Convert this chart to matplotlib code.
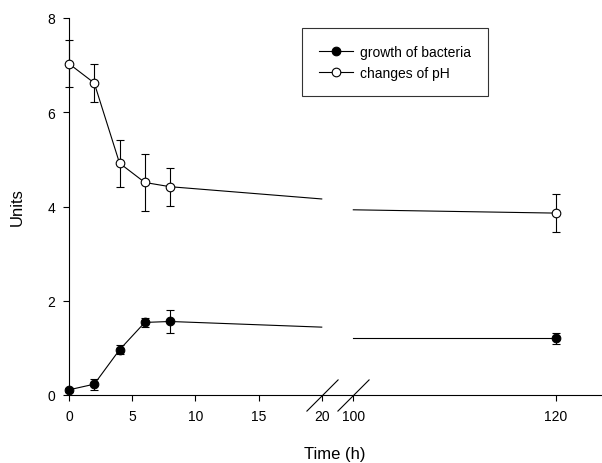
import numpy as np
import matplotlib
matplotlib.use("Agg")
import matplotlib.pyplot as plt
from matplotlib.lines import Line2D

plt.rcParams['font.family'] = ['Liberation Sans', 'DejaVu Sans']

# data
time = [0, 2, 4, 6, 8]
bacteria = [0.11, 0.23, 0.96, 1.54, 1.56]
bacteria_err = [0.04, 0.12, 0.10, 0.09, 0.25]
ph = [7.03, 6.62, 4.92, 4.51, 4.42]
ph_err = [0.50, 0.40, 0.50, 0.60, 0.40]

time_late = [120]
bacteria_late = [1.20]
bacteria_late_err = [0.12]
ph_late = [3.86]
ph_late_err = [0.40]

# where the connecting lines meet the axis break
break_time = [20, 100]
bacteria_break = [1.44, 1.20]
ph_break = [4.16, 3.93]

xticks = [0, 5, 10, 15, 20, 100, 120]

# broken x axis: 0-20 linear, 20-100 squeezed, 100+ at 0.8 scale
GAP = 2.5
R = 0.8


def fwd(x):
    x = np.asarray(x, dtype=float)
    return np.where(x <= 20, x,
                    np.where(x < 100, 20 + (x - 20) * GAP / 80, 20 + GAP + (x - 100) * R))


def inv(u):
    u = np.asarray(u, dtype=float)
    return np.where(u <= 20, u,
                    np.where(u < 20 + GAP, 20 + (u - 20) * 80 / GAP, 100 + (u - 20 - GAP) / R))


fig = plt.figure(figsize=(6.02, 4.64), dpi=100)
ax = fig.add_axes([69 / 602, 68 / 464, 532 / 602, 377 / 464])
ax.set_xscale('function', functions=(fwd, inv))

lw = 0.8
ms = 6.2

# error bars
ax.errorbar(time + time_late, bacteria + bacteria_late, yerr=bacteria_err + bacteria_late_err,
            fmt='none', ecolor='black', elinewidth=lw, capsize=2.6, capthick=lw, clip_on=False, zorder=2)
ax.errorbar(time + time_late, ph + ph_late, yerr=ph_err + ph_late_err,
            fmt='none', ecolor='black', elinewidth=lw, capsize=2.6, capthick=lw, clip_on=False, zorder=2)

# connecting lines (left part, right part)
ax.plot(time + break_time[:1], bacteria + bacteria_break[:1], color='black', lw=lw, zorder=3)
ax.plot(break_time[1:] + time_late, bacteria_break[1:] + bacteria_late, color='black', lw=lw, zorder=3)
ax.plot(time + break_time[:1], ph + ph_break[:1], color='black', lw=lw, zorder=3)
ax.plot(break_time[1:] + time_late, ph_break[1:] + ph_late, color='black', lw=lw, zorder=3)

# markers
ax.plot(time + time_late, bacteria + bacteria_late, 'o', color='black', ms=ms,
        mec='black', mew=lw, clip_on=False, zorder=4)
ax.plot(time + time_late, ph + ph_late, 'o', color='white', ms=ms,
        mec='black', mew=lw, clip_on=False, zorder=4)

# break marks on the x axis
ax.plot(break_time, [0, 0], linestyle='none', marker=[(-1, -1), (1, 1)], ms=23,
        mec='black', mew=lw, clip_on=False, zorder=5)

ax.set_xlim(0, 124.5)
ax.set_ylim(0, 8)
ax.set_xticks(xticks)
ax.set_xticklabels([str(t) for t in xticks])
ax.set_yticks([0, 2, 4, 6, 8])
ax.minorticks_off()

for s in ['top', 'right']:
    ax.spines[s].set_visible(False)
for s in ['left', 'bottom']:
    ax.spines[s].set_linewidth(lw)
ax.tick_params(direction='out', length=4, width=lw, labelsize=10, pad=6)

ax.set_xlabel('Time (h)', fontsize=12, labelpad=17)
ax.set_ylabel('Units', fontsize=12, labelpad=16)

handles = [
    Line2D([], [], color='black', lw=lw, marker='o', ms=ms, mfc='black', mec='black', mew=lw),
    Line2D([], [], color='black', lw=lw, marker='o', ms=ms, mfc='white', mec='black', mew=lw),
]
leg = fig.legend(handles, ['growth of bacteria', 'changes of pH'],
                 loc='upper left', bbox_to_anchor=(302 / 602, 1 - 29 / 464),
                 bbox_transform=fig.transFigure, fontsize=10, frameon=True, fancybox=False,
                 borderpad=1.2, borderaxespad=0, handlelength=2.45, handletextpad=0.55,
                 labelspacing=0.5, numpoints=1)
leg.get_frame().set_edgecolor('black')
leg.get_frame().set_linewidth(lw)

fig.savefig('out.png', dpi=100)
